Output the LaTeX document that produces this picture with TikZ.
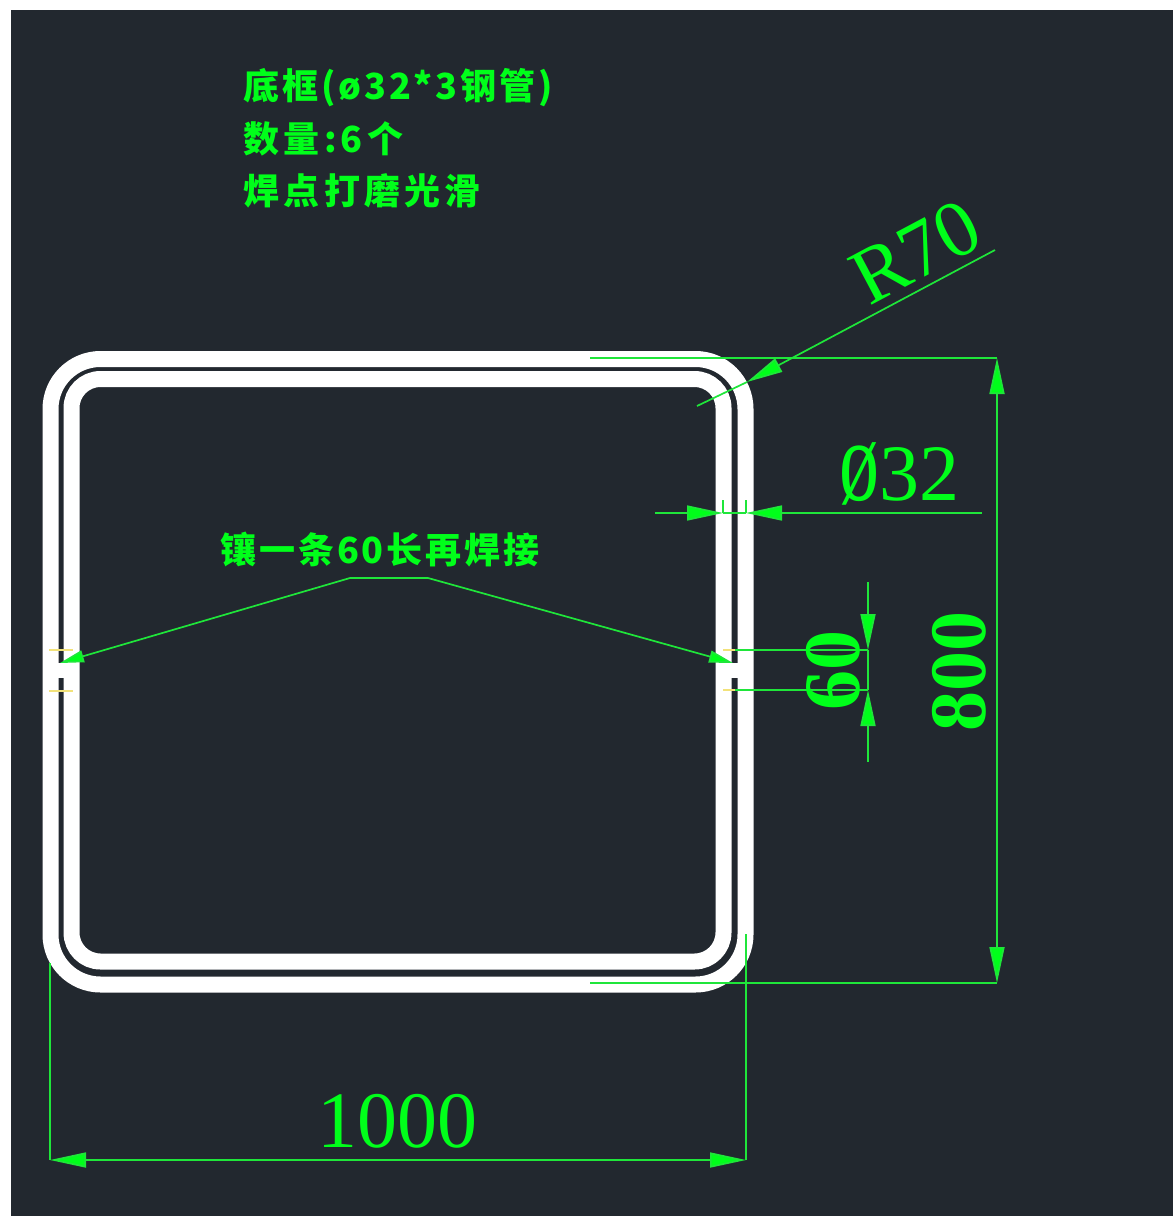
\documentclass[tikz,border=0pt]{standalone}
\usepackage{fontspec}
\setmainfont{Liberation Serif}
\newfontfamily\cjk[LetterSpace=8]{Noto Sans CJK SC}
\newfontfamily\cjkwide[LetterSpace=12]{Noto Sans CJK SC}
\usetikzlibrary{arrows.meta}
\definecolor{panelbg}{HTML}{22282F}
\definecolor{dimgreen}{HTML}{1FE63A}
\definecolor{textgreen}{HTML}{00FF1A}
\definecolor{tickyellow}{HTML}{F2E27A}
\tikzset{
  tube/.style={draw=white, line width=8pt},
  dimline/.style={draw=dimgreen, line width=0.85pt},
  dimarrow/.style={dimline, {Triangle[length=18pt,width=7.5pt,fill=textgreen]}-{Triangle[length=18pt,width=7.5pt,fill=textgreen]}},
  tipend/.style={dimline, -{Triangle[length=18pt,width=7.5pt,fill=textgreen]}},
  dimtext/.style={text=textgreen, font=\fontsize{40}{40}\selectfont, inner sep=0pt},
  dimbold/.style={text=textgreen, font=\fontsize{40}{40}\selectfont\bfseries, inner sep=0pt},
  notetext/.style={text=textgreen, font=\cjk\fontsize{18}{18}\selectfont\bfseries, inner sep=0pt, anchor=west},
  widenote/.style={text=textgreen, font=\cjkwide\fontsize{18}{18}\selectfont\bfseries, inner sep=0pt, anchor=west},
  cuttick/.style={draw=tickyellow, line width=0.6pt},
}
\begin{document}
\begin{tikzpicture}[x=0.5pt, y=-0.5pt]
\useasboundingbox (0,0) rectangle (1173,1216);
\fill[white] (0,0) rectangle (1173,1216);
\fill[panelbg] (11,10) rectangle (1173,1216);

% tube rings
\draw[tube, rounded corners=25pt] (50.5,359) rectangle (745.5,984.5);
\draw[tube, rounded corners=14.5pt] (71.5,379) rectangle (723.5,961.5);
% weld spots
\fill[white] (57,663) rectangle (65,678);
\fill[white] (730,663) rectangle (738,678);
\draw[cuttick] (49,650) -- (73,650);
\draw[cuttick] (49,691) -- (73,691);
\draw[cuttick] (723,650) -- (745,650);
\draw[cuttick] (723,690) -- (745,690);

% notes
\node[notetext] (noteTube) at (243,88) {底框(ø32*3钢管)};
\node[widenote] (noteCount) at (243,139) {数量:6个};
\node[widenote] (noteWeld) at (243,191) {焊点打磨光滑};
\node[notetext, anchor=center] (noteInsert) at (380,550) {镶一条60长再焊接};

% leader to the weld spots
\coordinate (leaderL) at (60,663);
\coordinate (leaderA) at (350,578);
\coordinate (leaderB) at (428,578);
\coordinate (leaderR) at (733,663);
\draw[dimline, {Triangle[length=12pt,width=6pt,fill=textgreen]}-{Triangle[length=12pt,width=6pt,fill=textgreen]}] (leaderL) -- (leaderA) -- (leaderB) -- (leaderR);

% R70
\coordinate (radiusEnd) at (995,250);
\coordinate (radiusTip) at (747,382);
\coordinate (radiusIn) at (697,406);
\draw[dimline] (radiusIn) -- (radiusTip);
\draw[tipend] (radiusEnd) -- (radiusTip);
\node[dimtext, rotate=28] (radiusText) at (916,252) {R70};

% diameter 32
\coordinate (diaL) at (723,513);
\coordinate (diaR) at (746,513);
\draw[dimline] (723,500) -- (diaL);
\draw[dimline] (746,500) -- (diaR);
\draw[dimline] (diaL) -- (diaR);
\draw[tipend] (655,513) -- (diaL);
\draw[tipend] (982,513) -- (diaR);
\node[dimtext] (diaText) at (899,474) {\scalebox{1}[1.45]{ø}32};

% slot 60
\coordinate (slotT) at (868,650);
\coordinate (slotB) at (868,690);
\draw[dimline] (735,650) -- (slotT);
\draw[dimline] (735,690) -- (slotB);
\draw[dimline] (slotT) -- (slotB);
\draw[tipend] (868,582) -- (slotT);
\draw[tipend] (868,762) -- (slotB);
\node[dimbold, rotate=90] (slotText) at (833,670) {60};

% height 800
\coordinate (heightT) at (997,358);
\coordinate (heightB) at (997,983);
\draw[dimline] (590,358) -- (heightT);
\draw[dimline] (590,983) -- (heightB);
\draw[dimarrow] (heightT) -- (heightB);
\node[dimbold, rotate=90] (heightText) at (959,671) {800};

% width 1000
\coordinate (widthL) at (50,1160);
\coordinate (widthR) at (746,1160);
\draw[dimline] (50,963) -- (widthL);
\draw[dimline] (746,934) -- (widthR);
\draw[dimarrow] (widthL) -- (widthR);
\node[dimtext] (widthText) at (397,1121) {1000};
\end{tikzpicture}
\end{document}
